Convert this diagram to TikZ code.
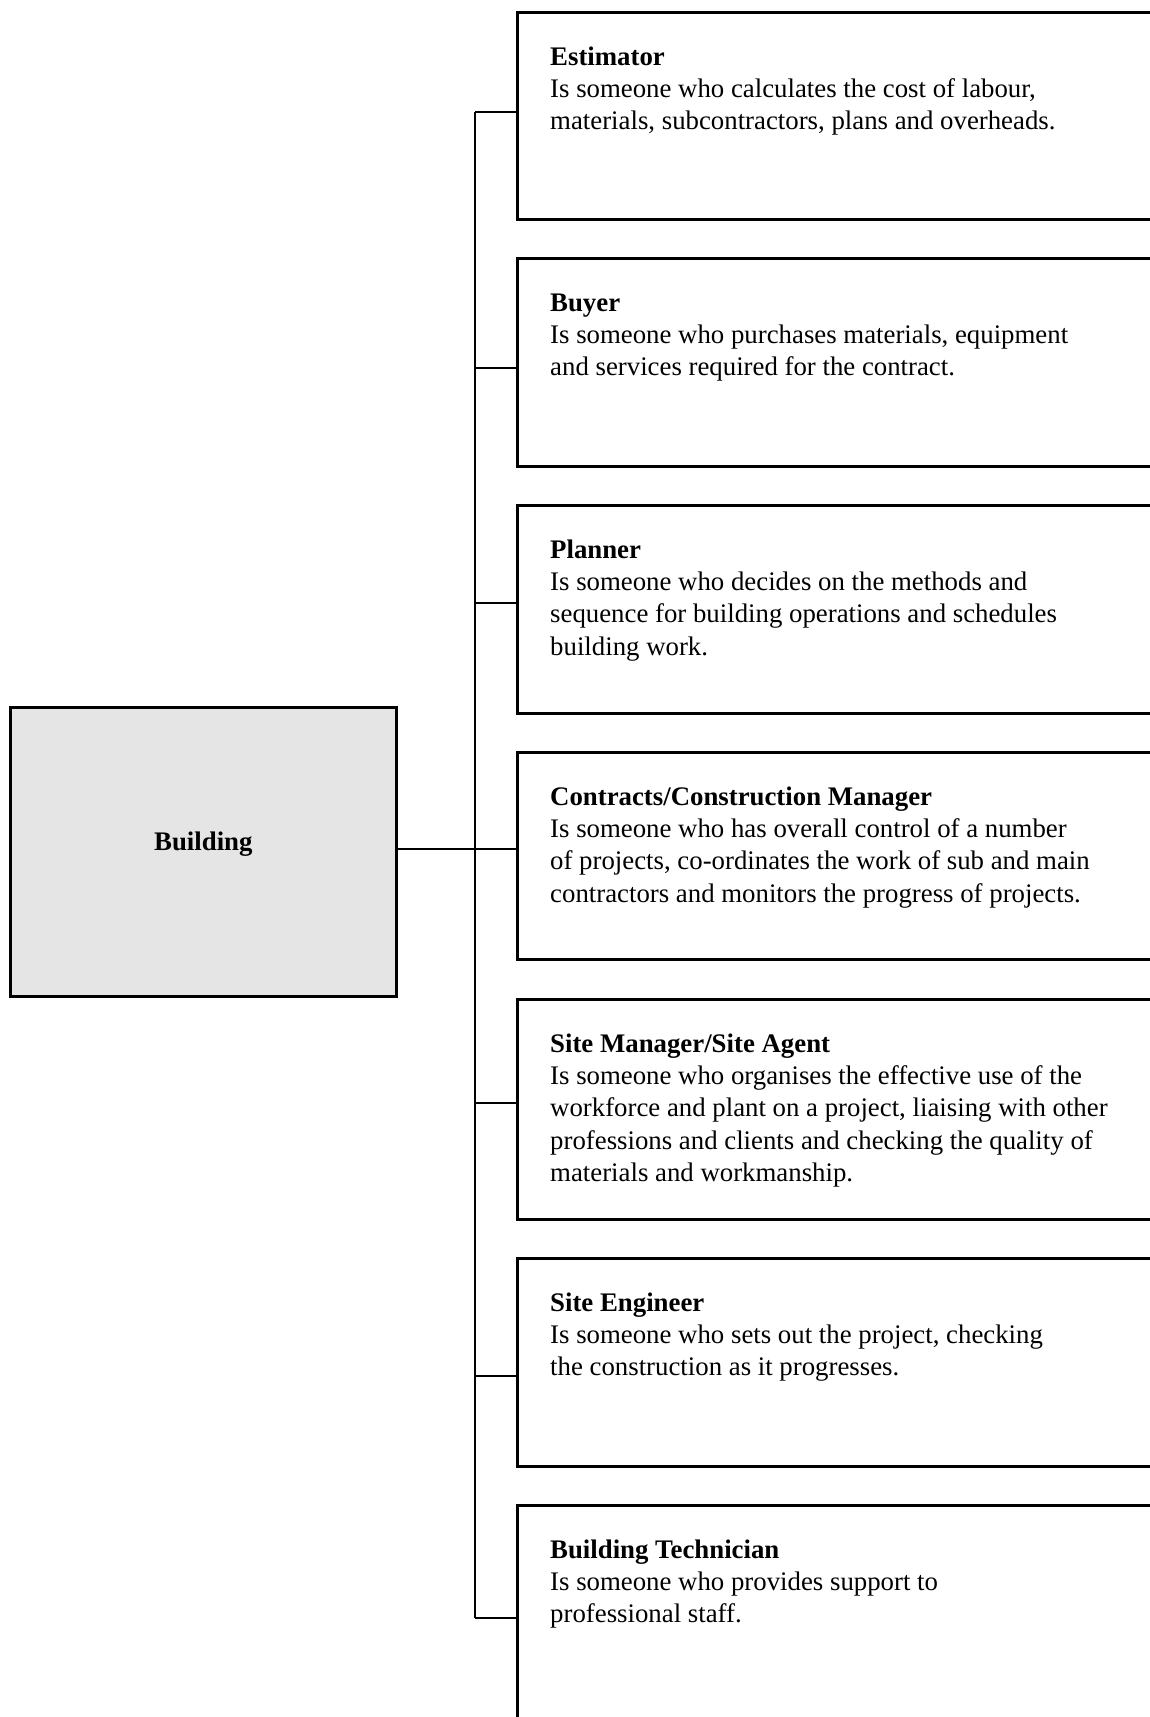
\documentclass[tikz,border=0pt]{standalone}
\usepackage{fontspec}
\setmainfont{Liberation Serif}
\definecolor{bldfill}{HTML}{E5E5E5}
\begin{document}
\begin{tikzpicture}[x=1pt,y=1pt,
  rolebox/.style={draw, line width=2.7pt, minimum width=700pt, anchor=north west, inner sep=0pt},
  roletext/.style={anchor=north west, align=left, inner sep=0pt, font=\fontsize{26.8}{32.3}\selectfont},
  mainbox/.style={draw, line width=2.7pt, fill=bldfill, anchor=north west, minimum width=386pt, minimum height=289pt, inner sep=0pt},
  conn/.style={line width=2.4pt}]
\clip (0,0) rectangle (1150,-1717);
% main box
\node[mainbox] (bld) at (9,-706) {};
\node[font=\fontsize{26.8}{32.3}\selectfont\bfseries, anchor=base, inner sep=0pt] (bldlbl) at (bld.center |- 0,-850) {Building};
% role boxes
\node[rolebox, minimum height=207pt] (b1) at (516,-11) {};
\node[rolebox, minimum height=208pt] (b2) at (516,-257) {};
\node[rolebox, minimum height=208pt] (b3) at (516,-504) {};
\node[rolebox, minimum height=207pt] (b4) at (516,-751) {};
\node[rolebox, minimum height=220pt] (b5) at (516,-998) {};
\node[rolebox, minimum height=208pt] (b6) at (516,-1257) {};
\node[rolebox, minimum height=300pt] (b7) at (516,-1504) {};
% texts
\node[roletext] (t1) at (550,-40) {\rule{0pt}{25pt}\textbf{Estimator}\\Is someone who calculates the cost of labour,\\materials, subcontractors, plans and overheads.};
\node[roletext] (t2) at (550,-286) {\rule{0pt}{25pt}\textbf{Buyer}\\Is someone who purchases materials, equipment\\and services required for the contract.};
\node[roletext] (t3) at (550,-533) {\rule{0pt}{25pt}\textbf{Planner}\\Is someone who decides on the methods and\\sequence for building operations and schedules\\building work.};
\node[roletext] (t4) at (550,-780) {\rule{0pt}{25pt}\textbf{Contracts/Construction Manager}\\Is someone who has overall control of a number\\of projects, co-ordinates the work of sub and main\\contractors and monitors the progress of projects.};
\node[roletext] (t5) at (550,-1027) {\rule{0pt}{25pt}\textbf{Site Manager/Site Agent}\\Is someone who organises the effective use of the\\workforce and plant on a project, liaising with other\\professions and clients and checking the quality of\\materials and workmanship.};
\node[roletext] (t6) at (550,-1286) {\rule{0pt}{25pt}\textbf{Site Engineer}\\Is someone who sets out the project, checking\\the construction as it progresses.};
\node[roletext] (t7) at (550,-1533) {\rule{0pt}{25pt}\textbf{Building Technician}\\Is someone who provides support to\\professional staff.};
% junctions on the vertical bus
\coordinate (j1) at (475,-112);
\coordinate (j2) at (475,-368);
\coordinate (j3) at (475,-603);
\coordinate (j4) at (475,-849);
\coordinate (j5) at (475,-1103);
\coordinate (j6) at (475,-1376);
\coordinate (j7) at (475,-1618);
\draw[conn] (j1) -- (j7);
\draw[conn] (bld.east |- j4) -- (j4 -| b4.west);
\draw[conn] (j1) -- (j1 -| b1.west);
\draw[conn] (j2) -- (j2 -| b2.west);
\draw[conn] (j3) -- (j3 -| b3.west);
\draw[conn] (j5) -- (j5 -| b5.west);
\draw[conn] (j6) -- (j6 -| b6.west);
\draw[conn] (j7) -- (j7 -| b7.west);
\end{tikzpicture}
\end{document}
